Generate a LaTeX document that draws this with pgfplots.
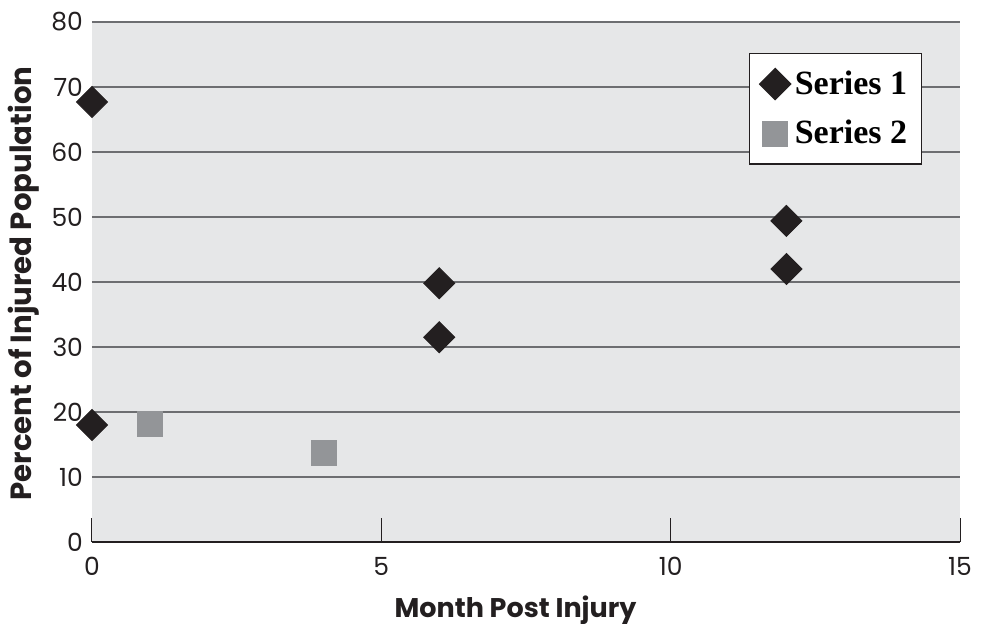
\documentclass[border=0pt]{standalone}
\usepackage{pgfplots}
\pgfplotsset{compat=1.18}
\usepackage{fontspec}
\setmainfont{Poppins}
\newfontfamily\legfont{Liberation Serif}
\definecolor{plotbg}{HTML}{E6E7E8}
\definecolor{gridgray}{HTML}{6D6E71}
\definecolor{markdark}{HTML}{231F20}
\definecolor{markgray}{HTML}{939598}

\begin{document}
\begin{tikzpicture}
\begin{axis}[
  scale only axis,
  width=434pt, height=260pt,
  xmin=0, xmax=15, ymin=0, ymax=80,
  xtick={0,5,10,15}, ytick={0,10,...,80},
  /pgf/number format/assume math mode=true,
  axis background/.style={fill=plotbg},
  axis x line*=bottom,
  axis y line*=left,
  y axis line style={draw=none},
  x axis line style={draw=markdark, line width=0.7pt},
  tick align=inside,
  xtick style={draw=markdark, line width=0.5pt},
  major tick length=12pt,
  ytick style={draw=none},
  ymajorgrids,
  major grid style={draw=gridgray, line width=0.7pt},
  tick label style={font=\fontsize{12.5}{14}\selectfont, text=markdark},
  xticklabel style={yshift=-4pt},
  yticklabel style={xshift=-1pt},
  every axis x label/.style={at={(axis description cs:0.488,0)}, anchor=center, yshift=-34pt},
  every axis y label/.style={at={(axis description cs:0,0.497)}, xshift=-34pt, rotate=90, anchor=center},
  xlabel style={font=\fontsize{13.5}{16}\bfseries\selectfont, text=markdark},
  ylabel style={font=\fontsize{14.6}{17}\bfseries\selectfont, text=markdark},
  xlabel={Month Post Injury},
  ylabel={Percent of Injured Population},
  clip=false,
  legend style={
    at={(0.757,0.940)}, anchor=north west,
    draw=markdark, line width=0.6pt, fill=white,
    font=\legfont\fontsize{17}{19}\bfseries\selectfont,
    inner xsep=5pt, inner ysep=6.5pt,
    row sep=7.5pt,
    cells={anchor=west},
  },
  legend image code/.code={\draw[#1] plot coordinates {(0.2cm,0cm)};},
]
\addplot[only marks, mark=square*, mark size=5.5pt,
  mark options={rotate=45, draw=markdark, fill=markdark}]
  coordinates {(0,67.7) (0,18) (6,39.8) (6,31.5) (12,49.4) (12,42)};
\addlegendentry{Series 1}
\addplot[only marks, mark=square*, mark size=6.25pt,
  mark options={draw=markgray, fill=markgray}]
  coordinates {(1,18.2) (4,13.7)};
\addlegendentry{Series 2}
\end{axis}
\pgfresetboundingbox
\path (-46pt,-41pt) rectangle (444.5pt,271pt);
\end{tikzpicture}
\end{document}
